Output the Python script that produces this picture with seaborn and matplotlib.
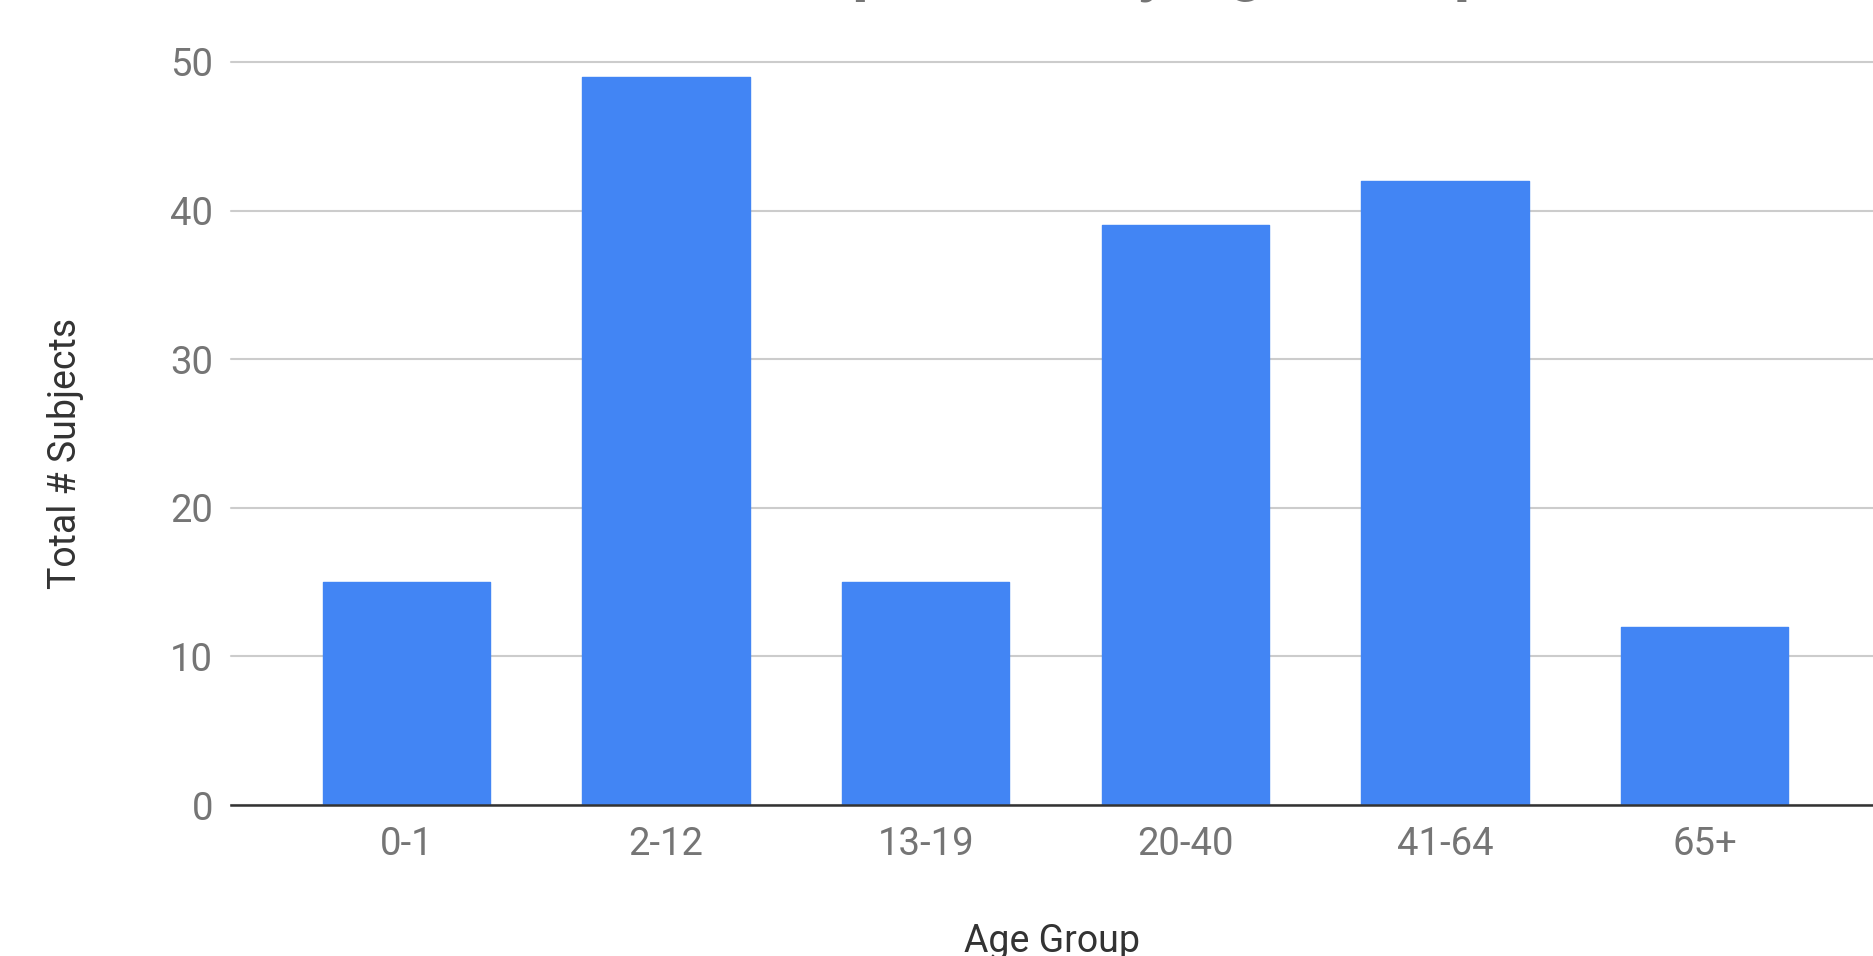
import matplotlib
matplotlib.use("Agg")
import matplotlib.pyplot as plt
import seaborn as sns

# Subjects counted in each age bracket
age_groups = ["0-1", "2-12", "13-19", "20-40", "41-64", "65+"]
subject_counts = [15, 49, 15, 39, 42, 12]
y_ticks = [0, 10, 20, 30, 40, 50]

chart_title = "Population by Age Group"
x_label = "Age Group"
y_label = "Total # Subjects"

sns.set_theme(style="white")
plt.rcParams["font.family"] = ["Roboto", "DejaVu Sans"]

W, H = 1874, 956
fig = plt.figure(figsize=(W / 100, H / 100), dpi=100)
fig.patch.set_facecolor("white")

# plot area in pixel terms: left 231, baseline 805, top gridline 62, right edge of figure
left, base, top = 231, 805, 62
ax = fig.add_axes([left / W, (H - base) / H, (W - left) / W, (base - top) / H])

sns.barplot(x=age_groups, y=subject_counts, color="#4285F4", saturation=1,
            width=0.645, ax=ax, zorder=3)

# slightly rounded bar corners
for bar in ax.patches:
    bar.set_edgecolor("#4285F4")
    bar.set_linewidth(1.0)
    bar.set_joinstyle("round")

ax.set_ylim(0, 50)
ax.set_xlim(-0.675, 5.652)
ax.set_yticks(y_ticks)
ax.yaxis.grid(True, color="#cccccc", linewidth=1.5, zorder=0)
ax.set_axisbelow(True)
for gl in ax.get_ygridlines():
    gl.set_clip_on(False)

for side in ["left", "right", "top"]:
    ax.spines[side].set_visible(False)
ax.spines["bottom"].set_color("#333333")
ax.spines["bottom"].set_linewidth(1.8)
ax.spines["bottom"].set_zorder(4)

ax.tick_params(axis="both", length=0, labelsize=27.5, labelcolor="#757575")
ax.tick_params(axis="y", pad=13)
ax.tick_params(axis="x", pad=15)

ax.set_xlabel(x_label, fontsize=27, color="#333333", va="baseline")
ax.xaxis.set_label_coords(0.5, (base - 952) / (base - top))
ax.set_ylabel(y_label, fontsize=27, color="#333333", va="center", ha="center")
ax.yaxis.set_label_coords((66 - left) / (W - left), (base - 453) / (base - top))

# title sits mostly above the canvas; only its descenders show at the top edge
fig.text(775 / W, 1 + 11.5 / H, chart_title, fontsize=46, fontweight="bold",
         color="#757575", ha="left", va="baseline")

fig.savefig("out.png", dpi=100, facecolor="white")
